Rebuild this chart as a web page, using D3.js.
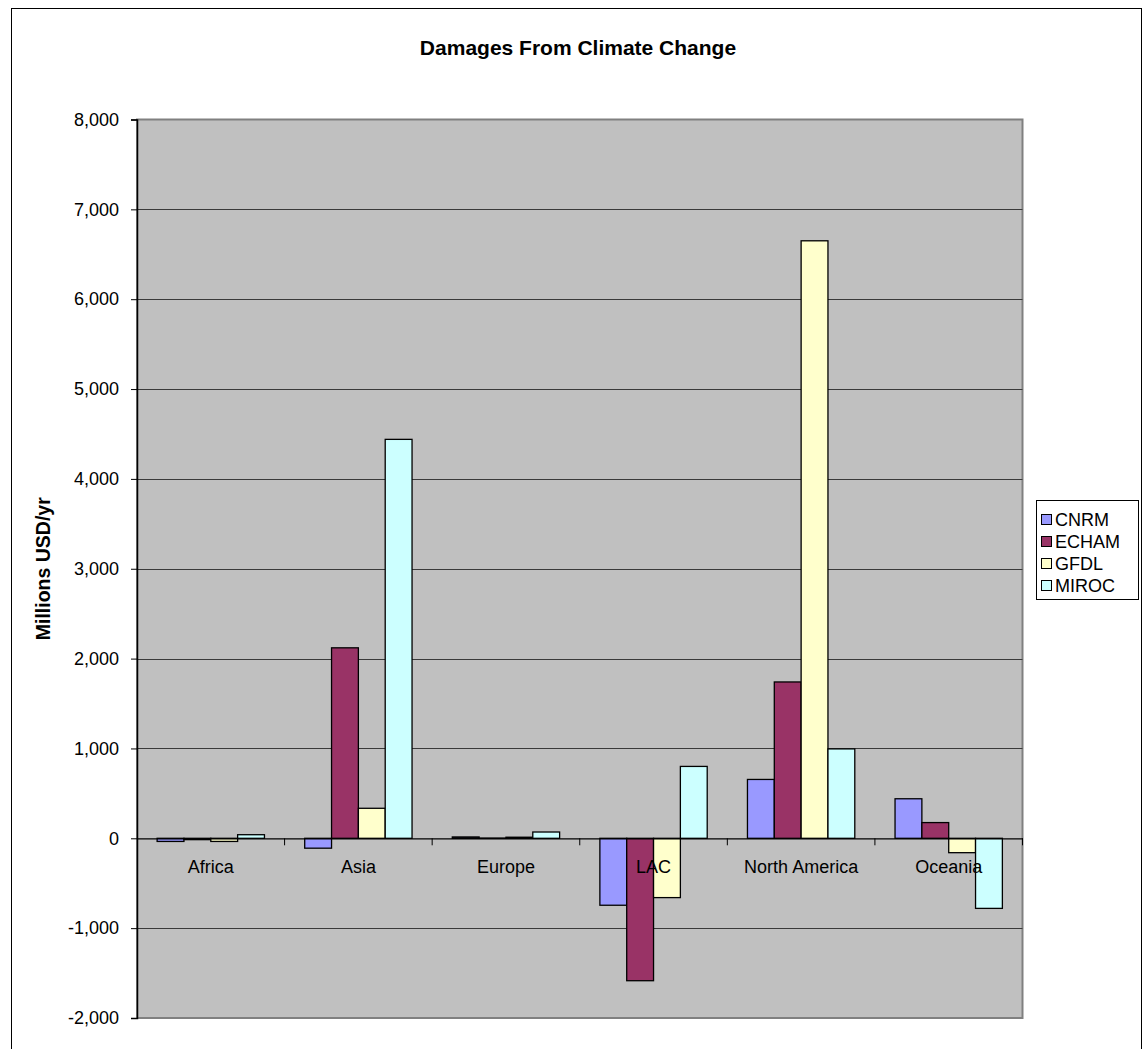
<!DOCTYPE html>
<html>
<head>
<meta charset="utf-8">
<script src="https://cdn.jsdelivr.net/npm/d3@7"></script>
<style>
  html, body { margin: 0; padding: 0; background: #fff; }
  svg { display: block; font-family: "Liberation Sans", Arial, sans-serif; }
</style>
</head>
<body>
<svg id="chart" width="1144" height="1049"></svg>
<script>
// Regions along the x axis
const regions = ["Africa", "Asia", "Europe", "LAC", "North America", "Oceania"];
// Climate models (one bar per model in each region)
const models = ["CNRM", "ECHAM", "GFDL", "MIROC"];
// Damages, millions USD per year, in region order
const cnrm  = [-35, -110, 15, -745, 655, 440];
const echam = [-15, 2120, 3, -1585, 1740, 175];
const gfdl  = [-35, 334, 12, -660, 6650, -160];
const miroc = [40, 4440, 70, 800, 995, -780];
// Value axis ticks
const yTicks = [-2000, -1000, 0, 1000, 2000, 3000, 4000, 5000, 6000, 7000, 8000];

const seriesValues = { CNRM: cnrm, ECHAM: echam, GFDL: gfdl, MIROC: miroc };
const colors = { CNRM: "#9999FF", ECHAM: "#993366", GFDL: "#FFFFCC", MIROC: "#CCFFFF" };

const svg = d3.select("#chart");
const plot = { left: 137, right: 1022.5, top: 119.5, bottom: 1018 };

const x0 = d3.scaleBand().domain(regions).range([plot.left, plot.right]).padding(0);
const x1 = d3.scaleBand().domain(models).range([0, x0.bandwidth()])
  .paddingInner(0).paddingOuter(0.75);
const y = d3.scaleLinear().domain([-2000, 8000]).range([plot.bottom, plot.top]);

// Thousands separator with a plain hyphen for negatives
const fmt = d => d3.format(",")(d).replace("\u2212", "-");

// Outer chart frame
svg.append("rect")
  .attr("x", 11.5).attr("y", 8.5).attr("width", 1130).attr("height", 1060)
  .attr("fill", "#fff").attr("stroke", "#000").attr("stroke-width", 1);

// Plot area background
svg.append("rect")
  .attr("x", plot.left).attr("y", plot.top)
  .attr("width", plot.right - plot.left).attr("height", plot.bottom - plot.top)
  .attr("fill", "#C0C0C0").attr("stroke", "#808080").attr("stroke-width", 2);

// Horizontal gridlines
svg.append("g")
  .selectAll("line")
  .data(yTicks.filter(t => t !== 0 && t !== 8000 && t !== -2000))
  .join("line")
  .attr("x1", plot.left).attr("x2", plot.right)
  .attr("y1", d => Math.round(y(d)) + 0.5).attr("y2", d => Math.round(y(d)) + 0.5)
  .attr("stroke", "#3a3a3a").attr("stroke-width", 1);

// Bars
const rows = regions.map((r, i) => ({ region: r, values: models.map(m => ({ model: m, value: seriesValues[m][i] })) }));
svg.append("g")
  .selectAll("g")
  .data(rows)
  .join("g")
  .attr("transform", d => `translate(${x0(d.region)},0)`)
  .selectAll("rect")
  .data(d => d.values)
  .join("rect")
  .attr("x", d => x1(d.model))
  .attr("width", x1.bandwidth())
  .attr("y", d => y(Math.max(0, d.value)))
  .attr("height", d => Math.abs(y(d.value) - y(0)))
  .attr("fill", d => colors[d.model])
  .attr("stroke", "#000")
  .attr("stroke-width", 1.3);

// Value axis
const yAxis = svg.append("g")
  .attr("transform", `translate(${plot.left},0)`)
  .call(d3.axisLeft(y).tickValues(yTicks).tickFormat(fmt).tickSize(6).tickPadding(12));
yAxis.select(".domain").attr("stroke", "#000").attr("stroke-width", 1.5);
yAxis.selectAll(".tick line").attr("stroke", "#000");
yAxis.selectAll("text").attr("font-size", 18).attr("fill", "#000")
  .attr("font-family", "Liberation Sans, Arial, sans-serif");

// Category axis along the zero line
const xAxis = svg.append("g")
  .attr("transform", `translate(0,${y(0)})`)
  .call(d3.axisBottom(x0).tickSize(0).tickPadding(22));
xAxis.select(".domain").attr("stroke", "#000").attr("stroke-width", 1.3);
xAxis.selectAll("text").attr("font-size", 18).attr("fill", "#000")
  .attr("font-family", "Liberation Sans, Arial, sans-serif");
// Category boundary tick marks
xAxis.append("g")
  .selectAll("line")
  .data(regions.slice(1).map(r => x0(r)).concat([plot.right]))
  .join("line")
  .attr("x1", d => d).attr("x2", d => d)
  .attr("y1", 0).attr("y2", 7)
  .attr("stroke", "#000");

// Title
svg.append("text")
  .attr("x", 578).attr("y", 55)
  .attr("text-anchor", "middle")
  .attr("font-size", 21).attr("font-weight", "bold")
  .text("Damages From Climate Change");

// Value axis title
svg.append("text")
  .attr("transform", `translate(50,${(plot.top + plot.bottom) / 2}) rotate(-90)`)
  .attr("text-anchor", "middle")
  .attr("font-size", 19.5).attr("font-weight", "bold")
  .text("Millions USD/yr");

// Legend
const legend = svg.append("g").attr("transform", "translate(1036,500)");
legend.append("rect")
  .attr("x", 0.5).attr("y", 0.5).attr("width", 102).attr("height", 99)
  .attr("fill", "#fff").attr("stroke", "#000").attr("stroke-width", 1);
const item = legend.selectAll("g.item")
  .data(models)
  .join("g")
  .attr("class", "item")
  .attr("transform", (d, i) => `translate(0,${19 + i * 22})`);
item.append("rect")
  .attr("x", 5.5).attr("y", -4.5).attr("width", 10).attr("height", 10)
  .attr("fill", d => colors[d]).attr("stroke", "#000").attr("stroke-width", 1);
item.append("text")
  .attr("x", 19).attr("y", 7)
  .attr("font-size", 18)
  .text(d => d);
</script>
</body>
</html>
